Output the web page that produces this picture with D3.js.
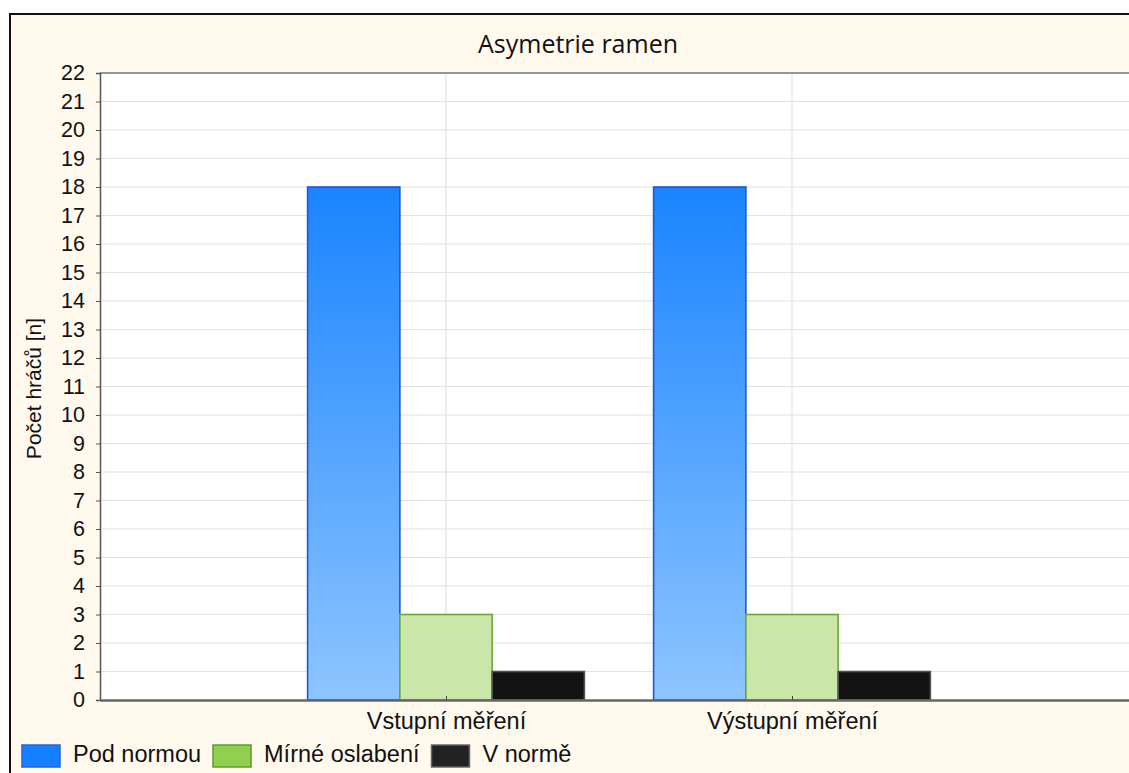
<!DOCTYPE html>
<html>
<head>
<meta charset="utf-8">
<script src="https://cdn.jsdelivr.net/npm/d3@7/dist/d3.min.js"></script>
<style>
  html, body { margin: 0; padding: 0; background: #fff; }
  svg { display: block; }
  text { font-family: "Liberation Sans", Arial, sans-serif; fill: #111; }
</style>
</head>
<body>
<svg id="chart" width="1129" height="773"></svg>
<script>
// Data
const categories = ["Vstupní měření", "Výstupní měření"];
const seriesNames = ["Pod normou", "Mírné oslabení", "V normě"];
const podNormou = [18, 18];
const mirneOslabeni = [3, 3];
const vNorme = [1, 1];
const yTicks = d3.range(0, 23);

const seriesValues = [podNormou, mirneOslabeni, vNorme];

const W = 1129, H = 773;
const frame = { x: 10, y: 14 };
const plot = { left: 100, top: 73, right: 1138, bottom: 700 };
const FONT = "'Liberation Sans', Arial, sans-serif";

const svg = d3.select("#chart");

// gradient for the first series
const defs = svg.append("defs");
const grad = defs.append("linearGradient")
  .attr("id", "blueGrad").attr("x1", 0).attr("y1", 0).attr("x2", 0).attr("y2", 1);
grad.append("stop").attr("offset", "0%").attr("stop-color", "#1a84ff");
grad.append("stop").attr("offset", "100%").attr("stop-color", "#8ec5ff");

// outer panel
svg.append("rect")
  .attr("x", frame.x).attr("y", frame.y)
  .attr("width", W + 20).attr("height", H + 20)
  .attr("fill", "#fff9ee").attr("stroke", "#111").attr("stroke-width", 2);

// plot background
svg.append("rect")
  .attr("x", plot.left).attr("y", plot.top)
  .attr("width", plot.right - plot.left).attr("height", plot.bottom - plot.top)
  .attr("fill", "#fff");

const y = d3.scaleLinear().domain([0, 22]).range([plot.bottom, plot.top]);
const x = d3.scalePoint().domain(categories).range([plot.left, plot.right]).padding(1);
const step = x.step();
const inner = d3.scaleBand().domain(seriesNames).range([-step * 0.4, step * 0.4]).padding(0);

// gridlines
svg.append("g").selectAll("line").data(yTicks.slice(1)).join("line")
  .attr("x1", plot.left).attr("x2", plot.right)
  .attr("y1", d => y(d)).attr("y2", d => y(d))
  .attr("stroke", "#e2e2e2").attr("stroke-width", 1.2);
svg.append("g").selectAll("line").data(categories).join("line")
  .attr("x1", d => x(d)).attr("x2", d => x(d))
  .attr("y1", plot.top).attr("y2", plot.bottom)
  .attr("stroke", "#e2e2e2").attr("stroke-width", 1.2);

// bars
const fills = ["url(#blueGrad)", "#cbe6a9", "#131313"];
const strokes = ["#2058d0", "#6aa83a", "#555"];
seriesNames.forEach((name, si) => {
  svg.append("g").selectAll("rect").data(seriesValues[si]).join("rect")
    .attr("x", (d, i) => x(categories[i]) + inner(name))
    .attr("y", d => y(d))
    .attr("width", inner.bandwidth())
    .attr("height", d => y(0) - y(d))
    .attr("fill", fills[si])
    .attr("stroke", strokes[si]).attr("stroke-width", 1.6);
});

// top border of plot
svg.append("line")
  .attr("x1", plot.left).attr("x2", plot.right)
  .attr("y1", plot.top).attr("y2", plot.top)
  .attr("stroke", "#777").attr("stroke-width", 1.5);

// y axis
const yAxis = svg.append("g")
  .attr("transform", `translate(${plot.left},0)`)
  .call(d3.axisLeft(y).tickValues(yTicks).tickSize(4).tickPadding(11));
yAxis.select(".domain").attr("stroke", "#555").attr("stroke-width", 1.5);
yAxis.selectAll(".tick line").attr("stroke", "#555");
yAxis.selectAll(".tick text")
  .style("font-family", FONT)
  .style("font-size", "21.5px").attr("fill", "#111");

// x axis
const xAxis = svg.append("g")
  .attr("transform", `translate(0,${plot.bottom})`)
  .call(d3.axisBottom(x).tickSize(0).tickPadding(12));
xAxis.select(".domain").attr("stroke", "#666").attr("stroke-width", 2.5);
xAxis.selectAll(".tick text")
  .style("font-family", FONT)
  .style("font-size", "23.5px").attr("fill", "#111");
xAxis.selectAll(".tick").append("line")
  .attr("y1", 0).attr("y2", -4).attr("stroke", "#444");

// title
svg.append("text")
  .attr("x", 578).attr("y", 53)
  .attr("text-anchor", "middle")
  .style("font-family", "'Open Sans', sans-serif")
  .style("font-size", "25px")
  .text("Asymetrie ramen");

// y axis title
svg.append("text")
  .attr("transform", `translate(41,${(plot.top + plot.bottom) / 2 + 2}) rotate(-90)`)
  .attr("text-anchor", "middle")
  .style("font-size", "21px")
  .text("Počet hráčů [n]");

// legend
const legendColors = ["#1480ff", "#92d050", "#222"];
const legendStrokes = ["#2a62d6", "#5e9a2e", "#666"];
const legend = svg.append("g").attr("transform", "translate(22,745)");
let lx = 0;
seriesNames.forEach((name, i) => {
  const g = legend.append("g").attr("transform", `translate(${lx},0)`);
  g.append("rect").attr("width", 38).attr("height", 22)
    .attr("fill", legendColors[i]).attr("stroke", legendStrokes[i]).attr("stroke-width", 1.5);
  const t = g.append("text").attr("x", 51).attr("y", 17)
    .style("font-size", "23.5px").text(name);
  lx += 51 + t.node().getComputedTextLength() + 12;
});
</script>
</body>
</html>
